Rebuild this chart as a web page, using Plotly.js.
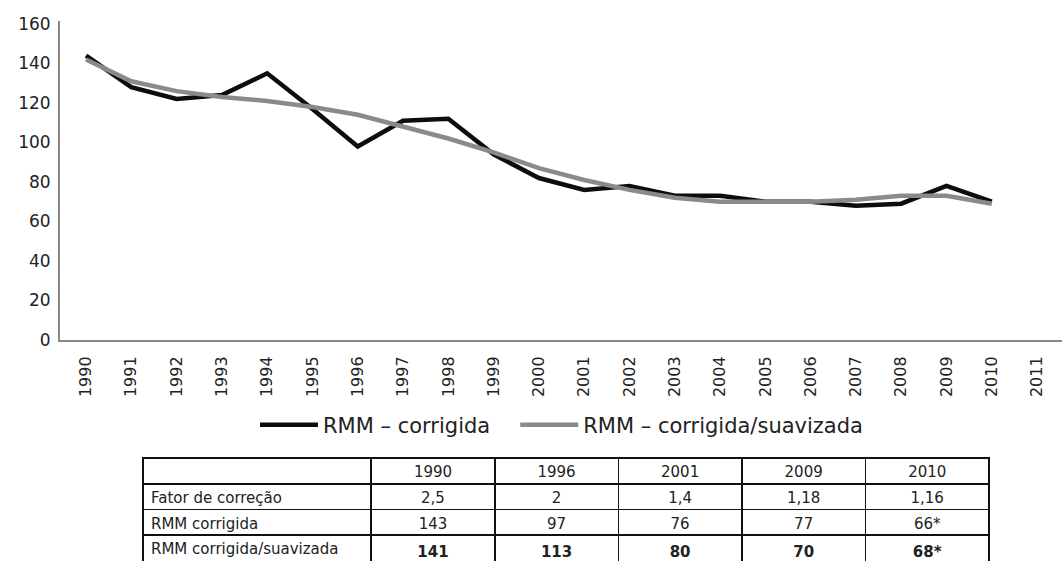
<!DOCTYPE html>
<html>
<head>
<meta charset="utf-8">
<script src="https://cdn.plot.ly/plotly-3.0.1.min.js"></script>
<style>html,body{margin:0;padding:0;background:#fff;}</style>
</head>
<body>
<div id="chart" style="width:1062px;height:561px;"></div>
<script>
// ---- chart data ----
const years = [1990,1991,1992,1993,1994,1995,1996,1997,1998,1999,2000,2001,2002,2003,2004,2005,2006,2007,2008,2009,2010];
const rmmCorrigida = [144,128,122,124,135,117,98,111,112,94,82,76,78,73,73,70,70,68,69,78,70];
const rmmSuavizada = [142,131,126,123,121,118,114,108,102,95,87,81,76,72,70,70,70,71,73,73,69];
const seriesNames = ['RMM – corrigida', 'RMM – corrigida/suavizada'];

// ---- table data ----
const tableYears = ['1990','1996','2001','2009','2010'];
const rowLabels = ['Fator de correção','RMM corrigida','RMM corrigida/suavizada'];
const fatorCorrecao = ['2,5','2','1,4','1,18','1,16'];
const rmmCorrigidaTab = ['143','97','76','77','66*'];
const rmmSuavizadaTab = ['141','113','80','70','68*'];

const FONT = 'DejaVu Sans, Open Sans, sans-serif';
const W = 1062, H = 561;
const NBSP = '\u00a0';

const tableColumns = [rowLabels];
for (let j = 0; j < tableYears.length; j++) {
  tableColumns.push([fatorCorrecao[j], rmmCorrigidaTab[j], '<b>' + rmmSuavizadaTab[j] + '</b>']);
}

const traces = [
  {
    type: 'scatter', mode: 'lines', x: years, y: rmmCorrigida,
    name: seriesNames[0] + NBSP + NBSP + NBSP,
    line: {color: '#0d0d0d', width: 4.5}, xaxis: 'x', yaxis: 'y'
  },
  {
    type: 'scatter', mode: 'lines', x: years, y: rmmSuavizada, name: seriesNames[1],
    line: {color: '#8a8a8a', width: 4.5}, xaxis: 'x', yaxis: 'y'
  },
  {
    type: 'table',
    domain: {x: [143/W, 989/W], y: [0, 1 - 458/H]},
    columnwidth: [229,124,124,124,124,124],
    header: {
      values: [''].concat(tableYears),
      align: ['left','center','center','center','center','center'],
      height: 26,
      line: {color: '#111', width: 1.5},
      fill: {color: 'rgba(255,255,255,0)'},
      font: {family: FONT, size: 15, color: '#222'}
    },
    cells: {
      values: tableColumns,
      align: ['left','center','center','center','center','center'],
      height: 25.5,
      line: {color: '#111', width: 1.5},
      fill: {color: 'rgba(255,255,255,0)'},
      font: {family: FONT, size: 15, color: '#222'}
    }
  }
];

const layout = {
  width: W, height: H,
  margin: {l: 0, r: 0, t: 0, b: 0},
  paper_bgcolor: '#ffffff', plot_bgcolor: '#ffffff',
  font: {family: FONT, color: '#222'},
  showlegend: true,
  legend: {
    orientation: 'h', x: 255/W, xanchor: 'left', y: 1 - 425/H, yanchor: 'middle',
    font: {family: FONT, size: 21, color: '#222'},
    itemwidth: 58, traceorder: 'normal'
  },
  xaxis: {
    domain: [60/W, 1],
    range: [1989.426, 2011.55],
    tickmode: 'linear', tick0: 1990, dtick: 1,
    tickangle: -90,
    showgrid: false, zeroline: false,
    showline: true, linecolor: '#888', linewidth: 2,
    ticks: '', ticklabelstandoff: 8,
    tickfont: {family: FONT, size: 16, color: '#222'},
    anchor: 'y', fixedrange: true
  },
  yaxis: {
    domain: [1 - 340/H, 1 - 21/H],
    range: [0, 161.5],
    tickmode: 'linear', tick0: 0, dtick: 20,
    showgrid: false, zeroline: false,
    showline: true, linecolor: '#888', linewidth: 2,
    ticks: '', ticklabelstandoff: 4,
    tickfont: {family: FONT, size: 17, color: '#222'},
    anchor: 'x', fixedrange: true
  }
};

Plotly.newPlot('chart', traces, layout, {displayModeBar: false, staticPlot: true});
</script>
</body>
</html>
